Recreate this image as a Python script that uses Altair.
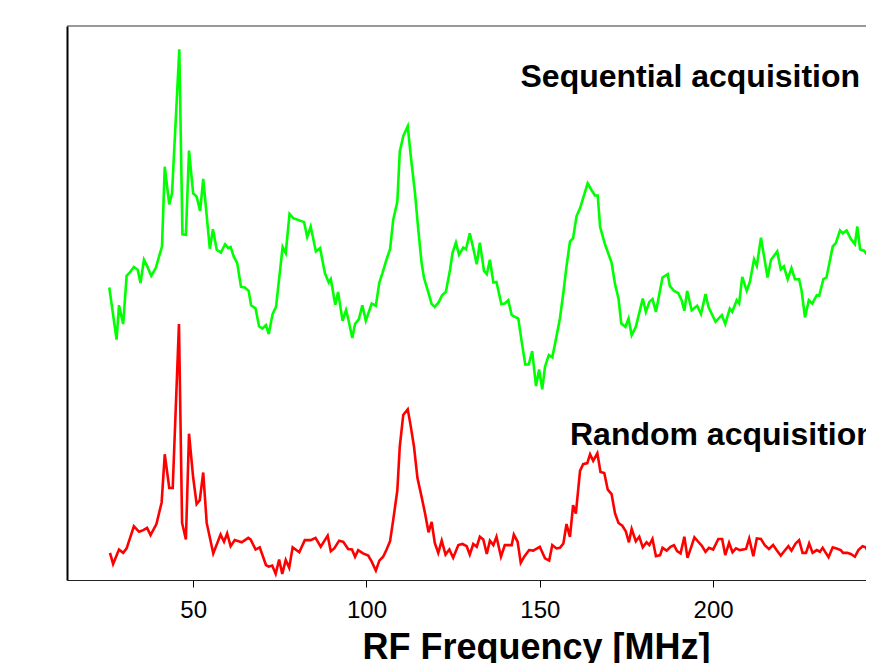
import altair as alt
import pandas as pd

# Sequential acquisition (green) – frequency [MHz] and amplitude (arb. units)
green_freq = [
    25.8, 27.9, 28.6, 29.8, 30.8, 31.7, 32.9, 34.0, 34.8, 35.8,
    36.7, 37.9, 39.2, 41.0, 41.8, 43.1, 43.9, 46.0, 46.9, 47.9,
    48.8, 50.0, 51.0, 52.0, 52.9, 54.8, 55.7, 56.8, 58.0, 59.2,
    60.1, 60.8, 61.7, 62.7, 63.8, 64.9, 66.0, 66.7, 68.0, 69.0,
    70.0, 71.0, 71.8, 72.9, 73.9, 75.8, 76.7, 77.8, 78.9, 82.0,
    82.9, 83.9, 85.4, 86.6, 88.0, 89.1, 89.7, 91.0, 91.8, 93.1,
    94.1, 94.6, 95.9, 96.7, 97.8, 98.8, 99.8, 101.5, 102.7, 103.7,
    104.6, 105.8, 106.8, 107.7, 108.9, 109.6, 110.6, 111.9, 112.8, 114.0,
    114.9, 115.9, 116.6, 117.8, 118.8, 119.7, 120.8, 121.8, 122.9, 124.1,
    124.8, 125.8, 126.7, 127.9, 128.7, 129.8, 130.8, 131.8, 132.7, 133.9,
    134.7, 135.6, 136.6, 137.5, 138.9, 139.9, 140.9, 141.9, 143.8, 144.7,
    145.8, 146.8, 147.8, 148.9, 149.8, 150.7, 151.5, 152.6, 153.6, 154.6,
    155.8, 156.8, 157.7, 158.7, 159.6, 160.6, 161.6, 163.8, 164.9, 165.9,
    166.7, 167.4, 168.8, 170.7, 171.7, 172.7, 173.5, 174.7, 175.6, 176.5,
    177.7, 179.7, 180.6, 181.6, 182.5, 183.5, 185.4, 186.9, 187.5, 188.7,
    189.9, 190.9, 191.7, 192.5, 193.8, 195.4, 196.5, 197.8, 198.7, 200.7,
    202.5, 203.5, 204.8, 205.5, 206.8, 207.5, 208.4, 209.7, 210.6, 211.8,
    212.6, 213.8, 215.7, 216.7, 218.5, 219.5, 220.4, 221.5, 222.6, 223.6,
    224.8, 225.5, 226.5, 227.6, 228.6, 229.9, 230.6, 231.8, 232.7, 234.5,
    235.4, 236.6, 237.4, 238.5, 239.7, 240.9, 241.6, 242.4, 243.6, 244.8,
    245.7, 246.4,
]
green_amp = [
    52.8, 43.4, 49.6, 46.2, 54.9, 55.5, 56.5, 56.0, 53.6, 57.8,
    56.7, 54.9, 56.3, 60.2, 74.6, 67.8, 69.8, 95.8, 62.4, 62.3,
    77.5, 69.8, 69.2, 66.6, 72.4, 59.8, 63.3, 59.6, 59.1, 60.6,
    59.9, 60.1, 58.4, 57.2, 52.9, 52.8, 52.2, 49.6, 49.0, 45.8,
    45.4, 46.0, 44.4, 48.0, 49.3, 60.1, 59.0, 66.1, 65.3, 64.6,
    61.9, 63.8, 59.3, 59.9, 55.4, 53.7, 54.3, 49.7, 52.0, 46.8,
    48.7, 47.5, 43.7, 46.2, 47.1, 49.6, 46.8, 49.9, 49.5, 53.7,
    55.4, 57.9, 59.7, 65.0, 68.3, 77.3, 80.1, 81.9, 76.4, 69.8,
    63.5, 57.2, 54.5, 52.0, 49.8, 49.3, 50.1, 51.4, 52.0, 56.0,
    59.0, 60.9, 58.7, 60.0, 59.7, 62.6, 59.9, 57.0, 60.9, 55.8,
    55.2, 57.8, 53.7, 53.8, 49.8, 49.9, 50.5, 47.8, 47.2, 43.3,
    38.9, 38.9, 41.3, 35.0, 38.0, 34.4, 38.5, 40.6, 40.2, 43.3,
    47.2, 51.9, 56.6, 61.1, 61.7, 65.7, 67.1, 71.6, 70.4, 69.4,
    69.4, 63.7, 60.6, 57.3, 53.4, 50.8, 46.3, 45.7, 47.2, 44.2,
    45.7, 50.8, 48.4, 50.2, 50.7, 48.4, 54.6, 55.2, 53.1, 52.2,
    51.8, 50.5, 48.6, 52.2, 48.7, 49.5, 48.0, 51.6, 49.2, 46.6,
    47.8, 46.2, 49.0, 48.4, 50.5, 49.9, 54.7, 52.2, 53.8, 57.9,
    56.7, 61.8, 54.6, 57.8, 59.3, 56.1, 56.6, 54.3, 56.3, 54.3,
    54.3, 52.3, 47.4, 50.5, 49.9, 51.4, 51.3, 54.3, 54.6, 60.2,
    60.8, 63.1, 62.6, 63.1, 61.6, 60.6, 63.8, 59.7, 59.4, 58.4,
    57.8, 58.4,
]

# Random acquisition (red)
red_freq = [
    26.0, 26.9, 28.6, 29.8, 30.8, 32.9, 34.4, 35.6, 36.7, 37.7,
    39.4, 40.9, 41.8, 43.1, 44.1, 45.9, 46.8, 47.9, 48.8, 50.0,
    51.0, 51.9, 52.9, 53.9, 55.8, 57.9, 58.9, 59.8, 60.8, 62.0,
    64.0, 65.9, 66.6, 68.0, 69.2, 71.0, 71.8, 72.8, 73.8, 74.8,
    75.7, 76.7, 77.7, 78.7, 80.6, 82.2, 83.9, 85.3, 86.8, 88.8,
    89.7, 90.7, 92.1, 93.3, 94.7, 95.8, 96.7, 97.6, 99.0, 100.5,
    101.5, 102.7, 103.7, 104.8, 105.8, 106.8, 107.7, 108.9, 109.6, 110.6,
    111.9, 112.7, 113.7, 114.7, 115.9, 116.9, 117.9, 118.8, 119.7, 120.7,
    121.7, 122.8, 123.9, 125.0, 126.5, 127.7, 128.9, 129.8, 130.8, 131.8,
    132.7, 133.7, 134.7, 135.6, 136.6, 137.5, 138.8, 139.9, 140.9, 141.9,
    142.5, 143.6, 144.5, 145.5, 146.9, 148.1, 150.0, 151.5, 152.7, 153.6,
    154.8, 155.8, 156.8, 157.7, 158.7, 159.6, 160.4, 161.6, 162.5, 163.7,
    164.5, 165.4, 166.6, 167.5, 168.6, 169.6, 170.7, 171.7, 172.7, 173.8,
    174.8, 175.7, 176.5, 177.7, 178.7, 179.7, 180.8, 181.6, 182.5, 183.5,
    184.7, 185.4, 186.6, 187.7, 188.7, 189.6, 190.6, 191.7, 192.6, 193.6,
    194.6, 195.7, 196.7, 197.8, 198.8, 200.0, 201.5, 202.6, 203.5, 204.6,
    205.6, 206.6, 207.7, 209.5, 210.4, 211.6, 212.6, 213.8, 214.9, 216.1,
    217.3, 218.3, 219.5, 220.5, 221.7, 222.6, 223.8, 224.8, 225.8, 226.8,
    227.7, 228.7, 229.9, 230.8, 231.6, 232.5, 233.3, 234.5, 235.6, 236.8,
    237.5, 238.7, 239.7, 240.9, 241.9, 243.1, 244.0, 245.0, 245.7, 246.4,
]
red_amp = [
    4.9, 2.9, 5.5, 4.9, 5.7, 9.7, 8.7, 9.0, 9.4, 8.1,
    10.1, 14.0, 22.7, 16.6, 16.6, 46.2, 10.3, 7.3, 26.4, 18.5,
    13.7, 14.4, 19.4, 10.3, 4.8, 8.2, 6.9, 8.4, 6.1, 7.2,
    6.8, 7.6, 7.3, 5.5, 5.9, 2.7, 2.4, 2.6, 1.1, 3.7,
    1.1, 3.6, 2.2, 5.9, 5.0, 7.2, 7.2, 7.6, 6.0, 8.0,
    5.2, 5.7, 7.1, 6.9, 5.6, 5.5, 4.2, 5.4, 4.8, 4.4,
    3.3, 1.7, 3.5, 4.2, 5.5, 7.0, 10.8, 16.2, 24.1, 29.8,
    30.8, 28.0, 24.1, 18.4, 15.0, 12.0, 8.6, 10.5, 6.7, 4.9,
    7.1, 4.6, 5.5, 4.0, 6.3, 6.5, 6.1, 4.6, 6.5, 6.0,
    7.8, 7.3, 4.7, 7.1, 6.3, 7.8, 4.2, 6.3, 6.3, 6.3,
    8.2, 6.9, 3.1, 4.2, 5.4, 5.3, 6.0, 3.9, 3.5, 6.3,
    5.7, 5.8, 6.6, 10.1, 7.8, 13.5, 12.0, 19.7, 20.9, 21.1,
    22.7, 21.5, 22.9, 19.5, 19.3, 16.3, 15.5, 12.0, 10.3, 9.8,
    8.8, 6.8, 9.2, 7.0, 7.8, 5.9, 6.8, 6.3, 7.4, 4.3,
    4.5, 5.8, 5.3, 6.0, 6.3, 5.2, 4.8, 7.8, 4.0, 5.8,
    7.7, 6.9, 6.2, 5.1, 5.8, 5.5, 7.4, 7.4, 4.5, 6.7,
    5.0, 5.7, 5.4, 5.6, 7.5, 4.3, 7.5, 7.4, 6.3, 5.6,
    6.3, 5.4, 4.4, 5.2, 6.1, 5.3, 6.6, 7.2, 4.9, 4.9,
    6.6, 4.9, 5.4, 5.1, 5.8, 4.9, 4.1, 5.9, 5.7, 5.4,
    4.9, 4.9, 4.7, 4.2, 5.4, 6.1, 5.9, 4.8, 4.1, 5.7,
]

x_ticks = [50, 100, 150, 200, 250]
series_names = ["Sequential acquisition", "Random acquisition"]
series_colors = ["#00FF00", "#FF0000"]

FONT = "Liberation Sans"

rows = []
for f, a in zip(green_freq, green_amp):
    rows.append({"freq": f, "amp": a, "series": series_names[0]})
for f, a in zip(red_freq, red_amp):
    rows.append({"freq": f, "amp": a, "series": series_names[1]})
df = pd.DataFrame(rows)

labels = pd.DataFrame({
    "text": series_names,
    "freq": [242.4, 158.7],
    "amp": [89.0, 24.4],
    "align": ["right", "left"],
})

xscale = alt.Scale(domain=[13.6, 244.1], nice=False, zero=False)
yscale = alt.Scale(domain=[0, 100], nice=False, zero=False)

lines = alt.Chart(df).mark_line(strokeWidth=2.6, clip=True).encode(
    x=alt.X("freq:Q", scale=xscale,
            axis=alt.Axis(values=x_ticks, title="RF Frequency [MHz]", grid=False,
                          tickSize=7, tickColor="#000", tickWidth=1,
                          domainColor="#222", domainWidth=1,
                          labelFont=FONT, labelFontSize=24, labelColor="#000",
                          labelBaseline="alphabetic", labelPadding=30,
                          labelFlush=False, labelOverlap=False, labelBound=False,
                          titleFont=FONT, titleFontSize=36, titleFontWeight="bold",
                          titleColor="#000", titleBaseline="alphabetic",
                          titleY=78, titleX=469)),
    y=alt.Y("amp:Q", scale=yscale,
            axis=alt.Axis(labels=False, ticks=False, title=None, grid=False,
                          domain=True, domainColor="#000", domainWidth=2)),
    color=alt.Color("series:N", scale=alt.Scale(domain=series_names, range=series_colors),
                    legend=None),
    detail="series:N",
)

top_edge = alt.Chart(pd.DataFrame({"edge": [100]})).mark_rule(
    color="#333", strokeWidth=1.2).encode(y=alt.Y("edge:Q", scale=yscale))

text_right = alt.Chart(labels[labels["align"] == "right"]).mark_text(
    align="right", baseline="alphabetic", font=FONT, fontSize=32, fontWeight="bold",
    color="#000").encode(x=alt.X("freq:Q", scale=xscale), y=alt.Y("amp:Q", scale=yscale),
                         text="text:N")
text_left = alt.Chart(labels[labels["align"] == "left"]).mark_text(
    align="left", baseline="alphabetic", font=FONT, fontSize=32, fontWeight="bold",
    color="#000").encode(x=alt.X("freq:Q", scale=xscale), y=alt.Y("amp:Q", scale=yscale),
                         text="text:N")

chart = alt.layer(top_edge, lines, text_right, text_left).properties(
    width=799, height=554,
    autosize=alt.AutoSizeParams(type="none"),
    padding={"left": 59, "top": 18, "right": 0, "bottom": 83},
    background="white",
).configure_view(stroke=None)

chart.save("out.html", embed_options={"renderer": "svg", "actions": False})
